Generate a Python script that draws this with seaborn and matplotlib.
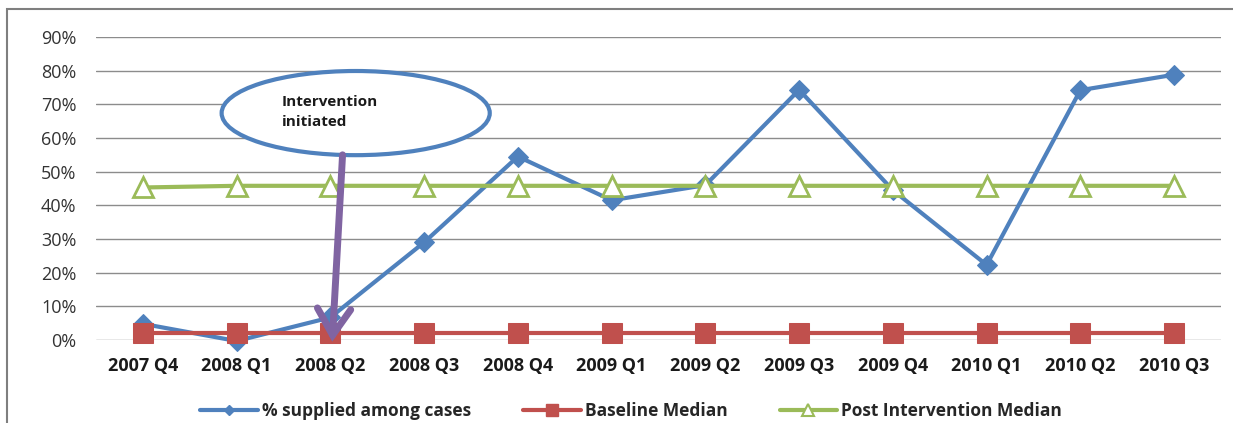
import numpy as np
import pandas as pd
import matplotlib
matplotlib.use("Agg")
import matplotlib.pyplot as plt
from matplotlib.lines import Line2D
from matplotlib.patches import Ellipse, Rectangle, FancyArrowPatch
import seaborn as sns

categories = ["2007 Q4", "2008 Q1", "2008 Q2", "2008 Q3", "2008 Q4", "2009 Q1",
              "2009 Q2", "2009 Q3", "2009 Q4", "2010 Q1", "2010 Q2", "2010 Q3"]
pct_supplied = [4.8, -0.3, 6.7, 29.0, 54.5, 41.5, 46.0, 74.3, 44.5, 22.3, 74.2, 78.8]
baseline_median = [2.0] * 12
post_median = [45.3, 45.8, 45.8, 45.8, 45.8, 45.8, 45.8, 45.8, 45.8, 45.8, 45.8, 45.8]
y_ticks = [0, 10, 20, 30, 40, 50, 60, 70, 80, 90]

BLUE, RED, GREEN, PURPLE = "#4F81BD", "#C0504D", "#9BBB59", "#8064A2"

sns.set_theme(style="white")
plt.rcParams["font.family"] = ["Open Sans", "DejaVu Sans"]

fig = plt.figure(figsize=(12.33, 4.23), dpi=100)
ax = fig.add_axes([96/1233, 1-340/423, (1221-96)/1233, (340-37)/423])

df = pd.DataFrame({"pos": np.arange(len(categories)), "cat": categories,
                   "supplied": pct_supplied, "baseline": baseline_median, "post": post_median})

sns.lineplot(data=df, x="pos", y="supplied", ax=ax, color=BLUE, lw=3, marker="D",
             markersize=10, markerfacecolor=BLUE, markeredgecolor=BLUE, clip_on=False, zorder=3)
sns.lineplot(data=df, x="pos", y="baseline", ax=ax, color=RED, lw=3, marker="s",
             markersize=14, markerfacecolor=RED, markeredgecolor=RED, clip_on=False, zorder=4)
sns.lineplot(data=df, x="pos", y="post", ax=ax, color=GREEN, lw=3, marker="^",
             markersize=15, markerfacecolor="white", markeredgecolor=GREEN,
             markeredgewidth=2, clip_on=False, zorder=5)

ax.set_xlim(-0.5, len(categories) - 0.5)
ax.set_ylim(0, 90)
ax.set_yticks(y_ticks)
ax.set_yticklabels([f"{t}%" for t in y_ticks], fontsize=13, color="#333333")
ax.set_xticks(np.arange(len(categories)))
ax.set_xticklabels(categories, fontsize=13, fontweight="bold", color="#1a1a1a")
ax.tick_params(axis="x", length=0, pad=12)
ax.tick_params(axis="y", length=0, pad=14)
ax.set_xlabel("")
ax.set_ylabel("")
ax.grid(axis="y", color="#8c8c8c", lw=1)
ax.grid(axis="x", visible=False)
for s in ax.spines.values():
    s.set_visible(False)

# Annotation callout
ell = Ellipse((2.27, 67.4), 2.86, 25, facecolor="white", edgecolor=BLUE, lw=3, zorder=6)
ax.add_patch(ell)
ax.text(1.48, 67.6, "Intervention\ninitiated", fontsize=11, fontweight="bold",
        ha="left", va="center", color="#1a1a1a", zorder=7, linespacing=1.55)
arrow = FancyArrowPatch((2.13, 55), (2.02, -0.5),
                        arrowstyle="->,head_length=1.9,head_width=1.2",
                        mutation_scale=10, color=PURPLE, lw=5, zorder=8, clip_on=False,
                        shrinkA=0, shrinkB=0, capstyle="round", joinstyle="miter")
ax.add_patch(arrow)

# Outer frame
fig.patches.append(Rectangle((7/1233, -0.1), 1.2, 1 - 9/423 + 0.1, transform=fig.transFigure,
                             fill=False, edgecolor="#7f7f7f", lw=1.5))

handles = [
    Line2D([], [], color=BLUE, lw=3, marker="D", markersize=5),
    Line2D([], [], color=RED, lw=3, marker="s", markersize=8),
    Line2D([], [], color=GREEN, lw=3, marker="^", markersize=8, markerfacecolor="white",
           markeredgecolor=GREEN, markeredgewidth=1.5),
]
fig.legend(handles, ["% supplied among cases", "Baseline Median", "Post Intervention Median"],
           loc="center", bbox_to_anchor=(0.512, 1 - 411/423), ncol=3, frameon=False,
           handlelength=3.3, columnspacing=3.0, handletextpad=0.25,
           prop={"weight": "bold", "size": 12.5})

fig.savefig("out.png", dpi=100)
